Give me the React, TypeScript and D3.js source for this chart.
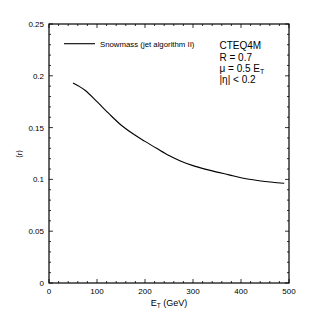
import React from "react";
import * as d3 from "d3";

const ET = [50, 75, 100, 125, 150, 175, 200, 225, 250, 275, 300, 325, 350, 375, 400, 425, 450, 475, 490];
const R = [0.1930, 0.1860, 0.1750, 0.1634, 0.1525, 0.1440, 0.1367, 0.1298, 0.1231, 0.1176, 0.1133, 0.1099, 0.1070, 0.1044, 0.1016, 0.0996, 0.0980, 0.0968, 0.0962];
const X_TICKS = [0, 100, 200, 300, 400, 500];
const Y_TICKS = [0, 0.05, 0.1, 0.15, 0.2, 0.25];
const Y_TICK_LABELS = ["0", "0.05", "0.1", "0.15", "0.2", "0.25"];
const LEGEND_LABEL = "Snowmass (jet algorithm II)";
const INFO = ["CTEQ4M", "R = 0.7", "μ = 0.5 E", "|η| < 0.2"];

export default function App() {
  const W = 314, H = 313;
  const left = 49, right = 289, top = 24, bottom = 283;
  const x = d3.scaleLinear().domain([0, 500]).range([left, right]);
  const y = d3.scaleLinear().domain([0, 0.25]).range([bottom, top]);
  const line = d3.line<number>().x((_, i) => x(ET[i])).y((d) => y(d)).curve(d3.curveMonotoneX);
  const xMinor = d3.range(0, 501, 20);
  const yMinor = d3.range(0, 0.2501, 0.01);
  const font = "'Liberation Sans', Arial, Helvetica, sans-serif";
  return (
    <svg width={W} height={H} style={{ position: "absolute", left: 0, top: 0 }} fontFamily={font}>
      <rect width={W} height={H} fill="#fff" />
      <g stroke="#000" strokeWidth={0.8}>
        {xMinor.map((v) => {
          const major = v % 100 === 0;
          const len = major ? 4 : 2;
          return (
            <g key={"x" + v}>
              <line x1={x(v)} x2={x(v)} y1={bottom} y2={bottom - len} />
              <line x1={x(v)} x2={x(v)} y1={top} y2={top + len} />
            </g>
          );
        })}
        {yMinor.map((v, i) => {
          const major = i % 5 === 0;
          const len = major ? 4 : 2;
          return (
            <g key={"y" + i}>
              <line x1={left} x2={left + len} y1={y(v)} y2={y(v)} />
              <line x1={right} x2={right - len} y1={y(v)} y2={y(v)} />
            </g>
          );
        })}
      </g>
      <rect x={left} y={top} width={right - left} height={bottom - top} fill="none" stroke="#000" strokeWidth={1.2} />
      <path d={line(R) || ""} fill="none" stroke="#000" strokeWidth={1.1} />
      <g fontSize={8} fill="#000">
        {X_TICKS.map((v) => (
          <text key={"xt" + v} x={x(v)} y={294} textAnchor="middle">{v}</text>
        ))}
        {Y_TICKS.map((v, i) => (
          <text key={"yt" + i} x={44} y={y(v) + 3} textAnchor="end">{Y_TICK_LABELS[i]}</text>
        ))}
      </g>
      <line x1={64} x2={95} y1={43.7} y2={43.7} stroke="#000" strokeWidth={1.1} />
      <text x={100} y={46.5} fontSize={7.8} fill="#000">{LEGEND_LABEL}</text>
      <g fontSize={10} fill="#000">
        <text x={219.5} y={49}>{INFO[0]}</text>
        <text x={219.5} y={60.5}>{INFO[1]}</text>
        <text x={219.5} y={72}>{INFO[2]}<tspan fontSize={7} dy={2}>T</tspan></text>
        <text x={219.5} y={83}>{INFO[3]}</text>
      </g>
      <text x={169} y={306} fontSize={9} textAnchor="middle" fill="#000">E<tspan fontSize={6.5} dy={2}>T</tspan><tspan dy={-2}> (GeV)</tspan></text>
      <text transform={`translate(22,154) rotate(-90)`} fontSize={8} textAnchor="middle" fill="#000">⟨r⟩</text>
    </svg>
  );
}
